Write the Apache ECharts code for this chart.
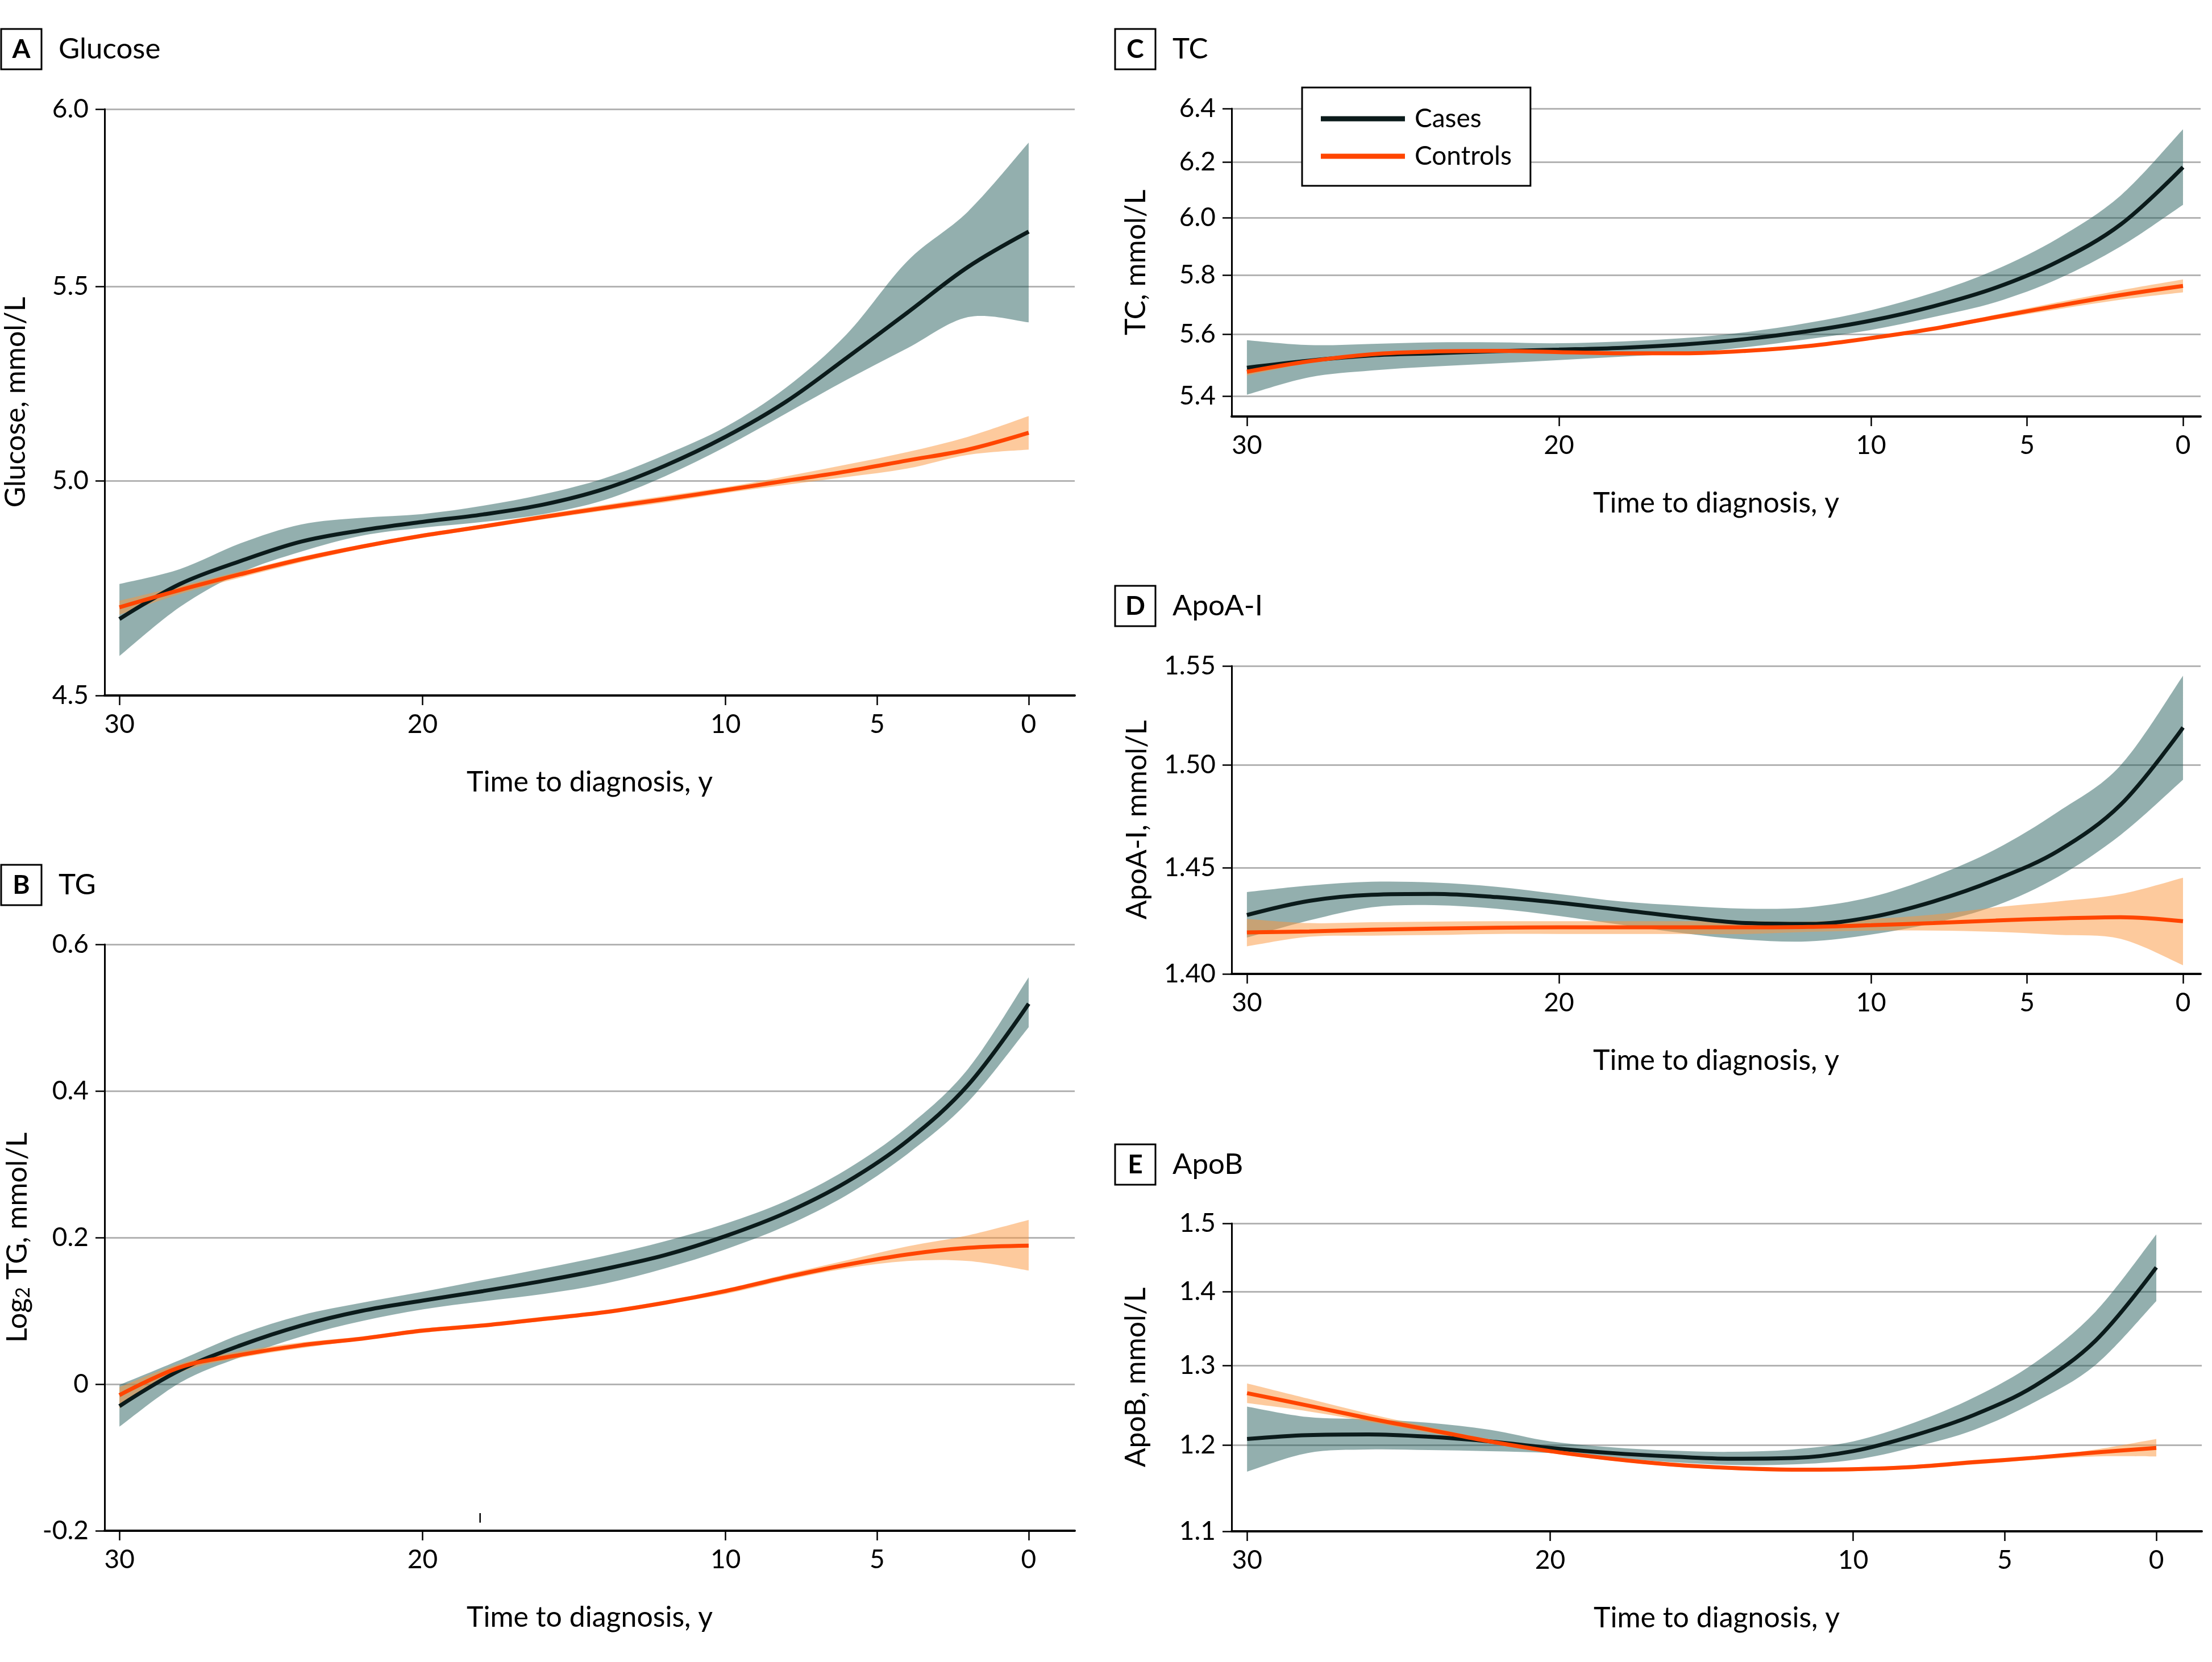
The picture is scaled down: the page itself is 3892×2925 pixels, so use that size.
<!DOCTYPE html>
<html><head><meta charset="utf-8">
<script src="https://cdn.jsdelivr.net/npm/echarts@6/dist/echarts.min.js"></script>
<style>html,body{margin:0;padding:0;background:#fff}#c{width:3892px;height:2925px}</style>
</head><body><div id="c"></div>
<script>
// ---------- DATA ----------
const years = [30,28,26,24,22,20,18,16,14,12,10,8,6,4,2,0];
const xTicks = [30,20,10,5,0];

// A Glucose (mmol/L)
const glucoseCases   = [4.672,4.753,4.807,4.853,4.880,4.900,4.918,4.942,4.980,5.037,5.109,5.198,5.311,5.430,5.553,5.650];
const glucoseCasesHi = [4.753,4.788,4.849,4.894,4.910,4.919,4.939,4.967,5.006,5.064,5.134,5.234,5.373,5.569,5.706,5.902];
const glucoseCasesLo = [4.588,4.700,4.779,4.829,4.867,4.886,4.900,4.919,4.953,5.011,5.084,5.168,5.254,5.336,5.418,5.404];
const glucoseCtrl    = [4.699,4.739,4.776,4.811,4.841,4.867,4.889,4.912,4.934,4.955,4.977,5.000,5.023,5.050,5.077,5.119];
const glucoseCtrlHi  = [4.714,4.748,4.783,4.817,4.846,4.872,4.894,4.918,4.941,4.963,4.984,5.011,5.040,5.071,5.109,5.161];
const glucoseCtrlLo  = [4.682,4.730,4.768,4.804,4.836,4.862,4.884,4.906,4.927,4.947,4.970,4.990,5.009,5.030,5.064,5.077];
const glucoseTicks = [4.5,5.0,5.5,6.0];

// B TG (log2 mmol/L)
const tgCases   = [-0.030,0.019,0.053,0.080,0.100,0.114,0.127,0.141,0.157,0.176,0.202,0.234,0.276,0.332,0.408,0.519];
const tgCasesHi = [-0.001,0.033,0.068,0.094,0.111,0.126,0.142,0.158,0.175,0.195,0.219,0.250,0.293,0.351,0.430,0.555];
const tgCasesLo = [-0.058,0.002,0.037,0.065,0.086,0.102,0.113,0.123,0.137,0.158,0.184,0.216,0.258,0.314,0.385,0.487];
const tgCtrl    = [-0.015,0.023,0.040,0.053,0.062,0.073,0.080,0.089,0.098,0.111,0.127,0.146,0.163,0.177,0.186,0.189];
const tgCtrlHi  = [-0.004,0.028,0.045,0.057,0.065,0.076,0.083,0.092,0.101,0.114,0.130,0.150,0.169,0.188,0.203,0.224];
const tgCtrlLo  = [-0.033,0.016,0.036,0.049,0.060,0.070,0.078,0.086,0.096,0.109,0.123,0.142,0.158,0.168,0.168,0.155];
const tgTicks = [-0.2,0,0.2,0.4,0.6];
const tgStrayMark = [[18.1,-0.176],[18.1,-0.189]];

// C TC (mmol/L)
const tcCases   = [5.491,5.514,5.531,5.538,5.545,5.550,5.556,5.567,5.585,5.611,5.646,5.694,5.757,5.847,5.976,6.182];
const tcCasesHi = [5.581,5.565,5.569,5.574,5.574,5.571,5.577,5.588,5.608,5.639,5.681,5.740,5.819,5.928,6.079,6.322];
const tcCasesLo = [5.404,5.460,5.482,5.495,5.505,5.516,5.527,5.538,5.558,5.585,5.615,5.658,5.708,5.787,5.899,6.046];
const tcCtrl    = [5.478,5.512,5.535,5.544,5.546,5.542,5.538,5.538,5.546,5.562,5.588,5.619,5.658,5.696,5.732,5.763];
const tcCtrlHi  = [5.490,5.518,5.539,5.548,5.550,5.546,5.542,5.542,5.550,5.566,5.592,5.624,5.666,5.708,5.748,5.785];
const tcCtrlLo  = [5.466,5.506,5.531,5.540,5.542,5.538,5.534,5.534,5.542,5.558,5.584,5.614,5.650,5.684,5.716,5.741];
const tcTicks = [5.4,5.6,5.8,6.0,6.2,6.4];

// D ApoA-I (mmol/L)
const apoaCases   = [1.4275,1.4342,1.4371,1.4375,1.4360,1.4333,1.4299,1.4265,1.4237,1.4233,1.4265,1.4339,1.4443,1.4581,1.4805,1.5188];
const apoaCasesHi = [1.4384,1.4415,1.4433,1.4429,1.4409,1.4374,1.4339,1.4319,1.4305,1.4312,1.4360,1.4457,1.4589,1.4771,1.4999,1.5450];
const apoaCasesLo = [1.4169,1.4250,1.4312,1.4322,1.4305,1.4271,1.4229,1.4189,1.4159,1.4151,1.4183,1.4237,1.4319,1.4457,1.4658,1.4928];
const apoaCtrl    = [1.4193,1.4198,1.4206,1.4211,1.4215,1.4217,1.4217,1.4217,1.4217,1.4219,1.4227,1.4237,1.4249,1.4259,1.4265,1.4246];
const apoaCtrlHi  = [1.4257,1.4237,1.4241,1.4244,1.4246,1.4246,1.4246,1.4246,1.4246,1.4244,1.4257,1.4277,1.4312,1.4339,1.4374,1.4452];
const apoaCtrlLo  = [1.4128,1.4173,1.4178,1.4181,1.4186,1.4186,1.4186,1.4186,1.4186,1.4196,1.4202,1.4202,1.4196,1.4182,1.4163,1.4040];
const apoaTicks = [1.40,1.45,1.50,1.55];

// E ApoB (mmol/L)
const apobCases   = [1.2072,1.2119,1.2127,1.2099,1.2043,1.1964,1.1903,1.1861,1.1834,1.1842,1.1925,1.2114,1.2370,1.2738,1.3331,1.4349];
const apobCasesHi = [1.2473,1.2342,1.2314,1.2270,1.2185,1.2043,1.1973,1.1931,1.1917,1.1945,1.2043,1.2270,1.2590,1.3038,1.3725,1.4833];
const apobCasesLo = [1.1682,1.1903,1.1945,1.1938,1.1925,1.1903,1.1847,1.1793,1.1760,1.1766,1.1820,1.1973,1.2185,1.2531,1.3008,1.3871];
const apobCtrl    = [1.2642,1.2486,1.2327,1.2185,1.2043,1.1925,1.1834,1.1765,1.1724,1.1705,1.1710,1.1737,1.1793,1.1847,1.1909,1.1964];
const apobCtrlHi  = [1.2767,1.2574,1.2385,1.2219,1.2066,1.1948,1.1856,1.1787,1.1746,1.1727,1.1733,1.1760,1.1820,1.1861,1.1945,1.2072];
const apobCtrlLo  = [1.2516,1.2414,1.2285,1.2150,1.2020,1.1902,1.1812,1.1743,1.1702,1.1683,1.1687,1.1714,1.1766,1.1820,1.1861,1.1861];
const apobTicks = [1.1,1.2,1.3,1.4,1.5];

// ---------- STYLE / LAYOUT ----------
const FONT = 'Lato';
const CASE_COLOR = '#0b1b1b';
const CTRL_COLOR = '#ff4500';
const CASE_BAND = 'rgba(30,87,85,0.48)';
const CTRL_BAND = 'rgba(251,150,60,0.5)';
const SMOOTH = 0.35;

function pairs(ys){ return years.map((t,i)=>[t, ys[i]]); }

// Catmull-Rom smoothing of projected pixel points into bezier path commands
function curveTo(pts){
  let d = '';
  for (let i = 0; i < pts.length - 1; i++) {
    const p0 = pts[Math.max(i-1,0)], p1 = pts[i], p2 = pts[i+1], p3 = pts[Math.min(i+2, pts.length-1)];
    const c1x = p1[0] + (p2[0]-p0[0])/6, c1y = p1[1] + (p2[1]-p0[1])/6;
    const c2x = p2[0] - (p3[0]-p1[0])/6, c2y = p2[1] - (p3[1]-p1[1])/6;
    d += ' C' + c1x + ' ' + c1y + ' ' + c2x + ' ' + c2y + ' ' + p2[0] + ' ' + p2[1];
  }
  return d;
}
function bandRenderer(lo, hi, color){
  return function(params, api){
    if (params.dataIndex !== 0) return null;
    const up = years.map((t,k)=>api.coord([t, hi[k]]));
    const dn = years.map((t,k)=>api.coord([t, lo[k]])).reverse();
    let d = 'M' + up[0][0] + ' ' + up[0][1] + curveTo(up);
    d += ' L' + dn[0][0] + ' ' + dn[0][1] + curveTo(dn) + ' Z';
    return {type:'path', shape:{pathData:d}, style:{fill:color, stroke:null}, silent:true};
  };
}

const panels = [
  {letter:'A', title:'Glucose', yName:'Glucose, mmol/L', grid:{left:184,top:192,width:1707,height:1032},
   xMin:-1.52, xMax:30.49, yType:'log', yMin:4.5, yMax:6.0, yTicks:glucoseTicks, fmt:v=>(+v).toFixed(1), nameGap:131,
   cases:glucoseCases, casesHi:glucoseCasesHi, casesLo:glucoseCasesLo, ctrl:glucoseCtrl, ctrlHi:glucoseCtrlHi, ctrlLo:glucoseCtrlLo,
   box:[2,51], titleY:86.5},
  {letter:'B', title:'TG', yName:'{m|Log}{s|2}{m| TG, mmol/L}', grid:{left:184,top:1662,width:1707,height:1032},
   xMin:-1.52, xMax:30.49, yType:'value', yMin:-0.2, yMax:0.6, yTicks:tgTicks, fmt:v=>(+v===0?'0':(+v).toFixed(1)), nameGap:126,
   cases:tgCases, casesHi:tgCasesHi, casesLo:tgCasesLo, ctrl:tgCtrl, ctrlHi:tgCtrlHi, ctrlLo:tgCtrlLo,
   box:[2,1522], titleY:1557.5},
  {letter:'C', title:'TC', yName:'TC, mmol/L', grid:{left:2167,top:191,width:1705,height:542},
   xMin:-0.565, xMax:30.49, yType:'log', yMin:5.335, yMax:6.4, yTicks:tcTicks, fmt:v=>(+v).toFixed(1), nameGap:143,
   cases:tcCases, casesHi:tcCasesHi, casesLo:tcCasesLo, ctrl:tcCtrl, ctrlHi:tcCtrlHi, ctrlLo:tcCtrlLo,
   box:[1962,51], titleY:86.5},
  {letter:'D', title:'ApoA-I', yName:'ApoA-I, mmol/L', grid:{left:2167,top:1172,width:1705,height:542},
   xMin:-0.565, xMax:30.49, yType:'log', yMin:1.40, yMax:1.55, yTicks:apoaTicks, fmt:v=>(+v).toFixed(2), nameGap:141,
   cases:apoaCases, casesHi:apoaCasesHi, casesLo:apoaCasesLo, ctrl:apoaCtrl, ctrlHi:apoaCtrlHi, ctrlLo:apoaCtrlLo,
   box:[1962,1031], titleY:1067},
  {letter:'E', title:'ApoB', yName:'ApoB, mmol/L', grid:{left:2167,top:2153,width:1707,height:542},
   xMin:-1.5, xMax:30.51, yType:'log', yMin:1.1, yMax:1.5, yTicks:apobTicks, fmt:v=>(+v).toFixed(1), nameGap:143,
   cases:apobCases, casesHi:apobCasesHi, casesLo:apobCasesLo, ctrl:apobCtrl, ctrlHi:apobCtrlHi, ctrlLo:apobCtrlLo,
   box:[1962,2014], titleY:2050}
];

const series = [];
panels.forEach((p,i)=>{
  const common = {xAxisIndex:i, yAxisIndex:i, silent:true, animation:false};
  series.push(Object.assign({}, common, {type:'custom', name:'Cases band', coordinateSystem:'cartesian2d',
    data:[[years[0], p.casesHi[0]]], renderItem:bandRenderer(p.casesLo, p.casesHi, CASE_BAND), z:2, clip:false}));
  series.push(Object.assign({}, common, {type:'custom', name:'Controls band', coordinateSystem:'cartesian2d',
    data:[[years[0], p.ctrlHi[0]]], renderItem:bandRenderer(p.ctrlLo, p.ctrlHi, CTRL_BAND), z:2, clip:false}));
  series.push(Object.assign({}, common, {type:'line', name:'Cases', data:pairs(p.cases), color:CASE_COLOR, symbol:'none', smooth:SMOOTH,
    itemStyle:{color:CASE_COLOR}, lineStyle:{color:CASE_COLOR, width:7}, z:3}));
  series.push(Object.assign({}, common, {type:'line', name:'Controls', data:pairs(p.ctrl), color:CTRL_COLOR, symbol:'none', smooth:SMOOTH,
    itemStyle:{color:CTRL_COLOR}, lineStyle:{color:CTRL_COLOR, width:7}, z:4}));
});
series.push({type:'line', name:'mark', xAxisIndex:1, yAxisIndex:1, data:tgStrayMark, symbol:'none', silent:true,
  lineStyle:{color:'#000', width:2.5}, z:4});

const graphic = [];
panels.forEach(p=>{
  graphic.push({type:'rect', shape:{x:p.box[0], y:p.box[1], width:71, height:71},
    style:{fill:'#fff', stroke:'#000', lineWidth:3}, z:10});
  graphic.push({type:'text', x:p.box[0]+35.5, y:p.box[1]+36,
    style:{text:p.letter, font:'bold 46px '+FONT, fill:'#000', align:'center', verticalAlign:'middle', textAlign:'center', textVerticalAlign:'middle'}, z:11});
  graphic.push({type:'text', x:p.box[0]+101, y:p.titleY,
    style:{text:p.title, font:'51px '+FONT, fill:'#000', align:'left', verticalAlign:'middle', textAlign:'left', textVerticalAlign:'middle'}, z:11});
});

const option = {
  animation:false,
  backgroundColor:'#fff',
  textStyle:{fontFamily:FONT, color:'#000'},
  grid: panels.map(p=>Object.assign({outerBoundsMode:'none', containLabel:false}, p.grid)),
  xAxis: panels.map((p,i)=>({
    type:'value', gridIndex:i, inverse:true, min:p.xMin, max:p.xMax, z:5,
    name:'Time to diagnosis, y', nameLocation:'middle', nameGap:128,
    nameTextStyle:{fontSize:50, color:'#000', fontFamily:FONT},
    axisLine:{show:true, onZero:false, lineStyle:{color:'#000', width:4}},
    axisTick:{show:true, customValues:xTicks, length:17, lineStyle:{color:'#000', width:2.5}},
    axisLabel:{show:true, customValues:xTicks, margin:28, fontSize:46, color:'#000', fontFamily:FONT},
    splitLine:{show:false}
  })),
  yAxis: panels.map((p,i)=>({
    type:p.yType, gridIndex:i, min:p.yMin, max:p.yMax,
    name:p.yName, nameLocation:'middle', nameGap:p.nameGap, nameRotate:90,
    nameTextStyle:{fontSize:50, color:'#000', fontFamily:FONT,
      rich:{m:{fontSize:50, fontFamily:FONT, color:'#000', lineHeight:55},
            s:{fontSize:34, fontFamily:FONT, color:'#000', lineHeight:34, verticalAlign:'bottom'}}},
    axisLine:{show:true, onZero:false, lineStyle:{color:'#000', width:3}},
    axisTick:{show:true, customValues:p.yTicks, length:16, lineStyle:{color:'#000', width:2.5}},
    axisLabel:{show:true, customValues:p.yTicks, formatter:p.fmt, margin:28, fontSize:46, color:'#000', fontFamily:FONT},
    splitLine:{show:true, lineStyle:{color:'#b3b3b3', width:3}}
  })),
  legend:{
    data:['Cases','Controls'], orient:'vertical', left:2291, top:154,
    padding:[32,33,29,33], itemGap:20, itemWidth:148, itemHeight:9, icon:'rect',
    backgroundColor:'#fff', borderColor:'#000', borderWidth:3, borderRadius:0,
    selectedMode:false, z:10,
    textStyle:{fontSize:46, color:'#000', fontFamily:FONT, padding:[0,0,0,12]}
  },
  graphic: graphic,
  series: series
};

const chart = echarts.init(document.getElementById('c'), null, {renderer:'canvas', width:3892, height:2925});
chart.setOption(option);
</script>
</body></html>
